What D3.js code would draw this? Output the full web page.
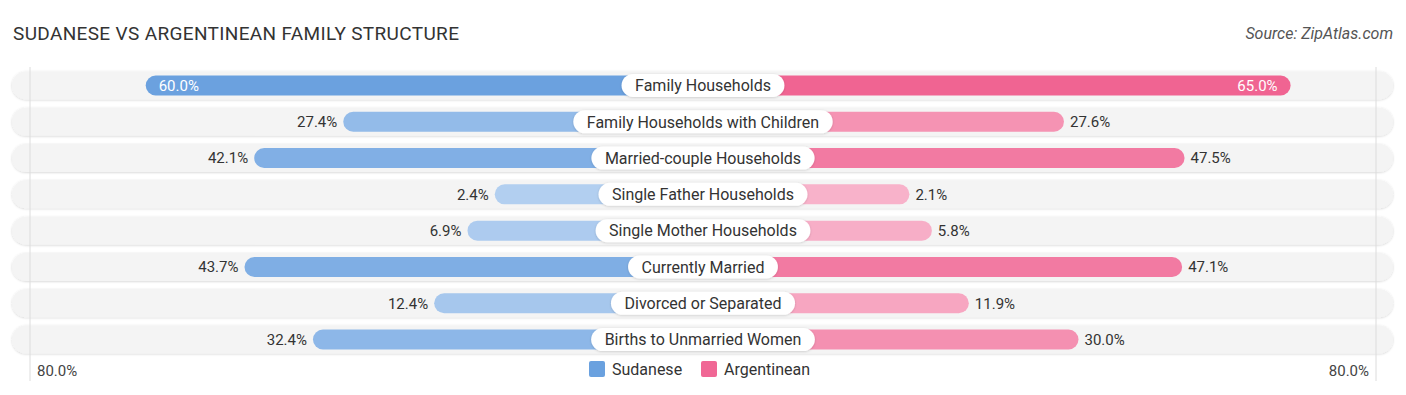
<!DOCTYPE html>
<html>
<head>
<meta charset="utf-8">
<script src="https://cdn.jsdelivr.net/npm/d3@7"></script>
<style>
  body { margin: 0; background: #fff; }
  svg { font-family: Roboto, "Noto Sans", sans-serif; }
</style>
</head>
<body>
<div id="chart"></div>
<script>
const categories = ["Family Households", "Family Households with Children", "Married-couple Households",
  "Single Father Households", "Single Mother Households", "Currently Married",
  "Divorced or Separated", "Births to Unmarried Women"];
const sudanese = [60.0, 27.4, 42.1, 2.4, 6.9, 43.7, 12.4, 32.4];
const argentinean = [65.0, 27.6, 47.5, 2.1, 5.8, 47.1, 11.9, 30.0];
const seriesNames = ["Sudanese", "Argentinean"];
const axisMax = 80;

const W = 1406, H = 395, cx = 703;

const svg = d3.select("#chart").append("svg").attr("width", W).attr("height", H);

// rows
const y = d3.scaleBand().domain(categories).range([67.3, 357.7]).paddingInner(0.2).paddingOuter(0.1);
// distance from the centre line for a value
const x = d3.scaleLinear().domain([0, axisMax]).range([193.7, 678.5]);

const blueC = d3.scaleLinear().domain([0, 65]).range(["#b5d1f1", "#659dde"]);
const pinkC = d3.scaleLinear().domain([0, 65]).range(["#f8b5cc", "#f06492"]);

svg.append("text").attr("x", 13).attr("y", 40)
  .attr("font-size", 19).attr("letter-spacing", 0.35).attr("fill", "#333")
  .text("SUDANESE VS ARGENTINEAN FAMILY STRUCTURE");

svg.append("text").attr("x", 1393).attr("y", 39).attr("text-anchor", "end")
  .attr("font-size", 16).attr("font-style", "italic").attr("fill", "#555")
  .text("Source: ZipAtlas.com");

const defs = svg.append("defs");
const f = defs.append("filter").attr("id", "sh").attr("x", "-5%").attr("y", "-30%").attr("width", "110%").attr("height", "160%");
f.append("feDropShadow").attr("dx", 0).attr("dy", 0.6).attr("stdDeviation", 1).attr("flood-color", "#000").attr("flood-opacity", 0.18);

const rows = svg.selectAll("g.row").data(categories).join("g").attr("class", "row")
  .attr("transform", d => `translate(0,${y(d)})`);

const bh = y.bandwidth();

rows.append("rect")
  .attr("x", 12).attr("y", 0.5).attr("width", 1381).attr("height", bh - 1)
  .attr("rx", (bh - 1) / 2).attr("fill", "#f4f4f4").attr("filter", "url(#sh)");

// gridlines at axis ends
[cx - x(axisMax) + 5.5, cx + x(axisMax) - 5.5].forEach(gx => {
  svg.append("line").attr("x1", gx).attr("x2", gx).attr("y1", 67).attr("y2", 381)
    .attr("stroke", "#dcdcdc").attr("stroke-width", 1);
});

const barH = 20;
rows.each(function(cat, i) {
  const g = d3.select(this);
  const mid = bh / 2;
  const sv = sudanese[i], av = argentinean[i];
  g.append("rect").attr("x", cx - x(sv)).attr("y", mid - barH / 2)
    .attr("width", x(sv)).attr("height", barH).attr("rx", barH / 2).attr("fill", blueC(sv));
  g.append("rect").attr("x", cx).attr("y", mid - barH / 2)
    .attr("width", x(av)).attr("height", barH).attr("rx", barH / 2).attr("fill", pinkC(av));

  const sIn = sv > 50, aIn = av > 50;
  g.append("text").attr("y", mid + 5.3).attr("font-size", 15)
    .attr("x", sIn ? cx - x(sv) + 13 : cx - x(sv) - 6)
    .attr("text-anchor", sIn ? "start" : "end")
    .attr("fill", sIn ? "#fff" : "#333")
    .text(sv.toFixed(1) + "%");
  g.append("text").attr("y", mid + 5.3).attr("font-size", 15)
    .attr("x", aIn ? cx + x(av) - 13 : cx + x(av) + 6)
    .attr("text-anchor", aIn ? "end" : "start")
    .attr("fill", aIn ? "#fff" : "#333")
    .text(av.toFixed(1) + "%");

  const lbl = g.append("text").attr("x", cx).attr("y", mid + 5.8).attr("text-anchor", "middle")
    .attr("font-size", 16).attr("fill", "#333").text(cat);
  const tw = lbl.node().getComputedTextLength();
  g.insert("rect", "text:last-of-type")
    .attr("x", cx - tw / 2 - 13.5).attr("y", mid - 11.5)
    .attr("width", tw + 27).attr("height", 23).attr("rx", 11.5)
    .attr("fill", "#fff").attr("filter", "url(#sh)");
  lbl.raise();
});

// axis end labels
svg.append("text").attr("x", 37).attr("y", 376).attr("font-size", 15).attr("fill", "#444")
  .text(axisMax.toFixed(1) + "%");
svg.append("text").attr("x", 1369).attr("y", 376).attr("text-anchor", "end").attr("font-size", 15).attr("fill", "#444")
  .text(axisMax.toFixed(1) + "%");

// legend
const legend = svg.append("g");
const legX = [589, 701];
seriesNames.forEach((n, i) => {
  legend.append("rect").attr("x", legX[i]).attr("y", 361).attr("width", 16).attr("height", 16).attr("rx", 2)
    .attr("fill", i === 0 ? "#6aa1df" : "#f06795");
  legend.append("text").attr("x", legX[i] + 23).attr("y", 375).attr("font-size", 16).attr("fill", "#333").text(n);
});
</script>
</body>
</html>
